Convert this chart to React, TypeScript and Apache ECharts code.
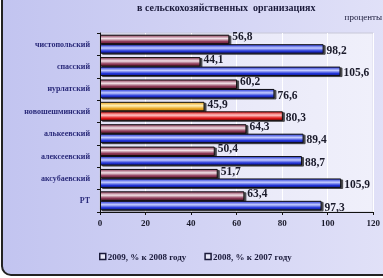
import React, { useEffect, useRef } from "react";
import * as echarts from "echarts";

const categories = ["чистопольский", "спасский", "нурлатский", "новошешминский", "алькеевский", "алексеевский", "аксубаевский", "РТ"];
const s2009 = [56.8, 44.1, 60.2, 45.9, 64.3, 50.4, 51.7, 63.4];
const s2008 = [98.2, 105.6, 76.6, 80.3, 89.4, 88.7, 105.9, 97.3];
const seriesNames = ["2009, % к 2008 году", "2008, % к 2007 году"];
const highlight = "новошешминский";

const FONT = "Liberation Serif";

const cyl = (dark: string, light: string, deep: string) =>
  new echarts.graphic.LinearGradient(0, 0, 0, 1, [
    { offset: 0, color: dark },
    { offset: 0.4, color: light },
    { offset: 0.75, color: dark },
    { offset: 1, color: deep },
  ]);

export default function App() {
  const ref = useRef<HTMLDivElement>(null);
  useEffect(() => {
    const chart = echarts.init(ref.current!, null, { renderer: "svg" });
    const fmt = (p: any) => String(p.value).replace(".", ",");
    const maroon = cyl("#8e3a58", "#f2e2e8", "#6a2038");
    const blue = cyl("#2436d8", "#c4ccff", "#121c9a");
    const yellow = cyl("#e8a420", "#fff0b8", "#c07a10");
    const red = cyl("#e01818", "#ffc4c4", "#a80c0c");
    const mk = (vals: number[], normal: any, special: any) =>
      vals.map((v, i) =>
        categories[i] === highlight ? { value: v, itemStyle: { color: special } } : { value: v, itemStyle: { color: normal } }
      );
    const labelCommon = {
      show: true,
      position: "right",
      distance: 3,
      formatter: fmt,
      fontFamily: FONT,
      fontWeight: "bold",
      fontSize: 11.5,
      color: "#1a1a2a",
    };
    const barStyle = { borderColor: "#111", borderWidth: 1, shadowColor: "rgba(0,0,0,0.7)", shadowOffsetX: 2, shadowOffsetY: 1 };
    chart.setOption({
      animation: false,
      graphic: [
        {
          type: "rect",
          z: -10,
          shape: { x: 2, y: -12, width: 400, height: 287, r: 9 },
          style: {
            fill: new echarts.graphic.LinearGradient(0, 0, 1, 0, [
              { offset: 0, color: "#c2c4f0" },
              { offset: 1, color: "#e2e2f8" },
            ]),
            stroke: "#222",
            lineWidth: 2,
          },
        },
        {
          type: "text",
          left: 137,
          top: 2,
          style: { text: "в сельскохозяйственных  организациях", font: `bold 10px "${FONT}"`, fill: "#1a1a3a" },
        },
        {
          type: "text",
          right: 1,
          top: 12,
          style: { text: "проценты", font: `9px "${FONT}"`, fill: "#1a1a3a" },
        },
      ],
      grid: {
        left: 100,
        right: 3,
        top: 33,
        bottom: 66,
        show: true,
        backgroundColor: new echarts.graphic.LinearGradient(0, 0, 1, 0, [
          { offset: 0, color: "#e2e2f6" },
          { offset: 1, color: "#f0f0fb" },
        ]),
        borderColor: "#c8c8d8",
        borderWidth: 1,
      },
      legend: {
        bottom: 12,
        left: 94,
        itemWidth: 6,
        itemHeight: 6,
        itemGap: 18,
        textStyle: { fontFamily: FONT, fontWeight: "bold", fontSize: 9, color: "#1a1a3a", padding: [0, 0, 0, -3] },
        data: seriesNames.map((n) => ({ name: n, icon: "rect", itemStyle: { color: "#e8e8f8", borderColor: "#1a1a3a", borderWidth: 1.5 } })),
      },
      xAxis: {
        type: "value",
        min: 0,
        max: 120,
        interval: 20,
        axisLine: { show: true, lineStyle: { color: "#111", width: 1 } },
        axisTick: { show: true, inside: false, length: 3, lineStyle: { color: "#111" } },
        splitLine: { show: true, lineStyle: { color: "#ffffff", width: 1 } },
        axisLabel: { fontFamily: FONT, fontWeight: "bold", fontSize: 9, color: "#1a1a2a", margin: 6 },
      },
      yAxis: {
        type: "category",
        inverse: true,
        data: categories,
        axisLine: { show: true, lineStyle: { color: "#111", width: 1 } },
        axisTick: { show: true, length: 3, lineStyle: { color: "#111" } },
        axisLabel: { fontFamily: FONT, fontWeight: "bold", fontSize: 8, color: "#2a2a7a", margin: 10 },
      },
      series: [
        {
          name: seriesNames[0],
          type: "bar",
          barWidth: 9.5,
          barGap: "0%",
          itemStyle: { color: maroon, ...barStyle },
          label: { ...labelCommon, offset: [0, -3] },
          data: mk(s2009, maroon, yellow),
        },
        {
          name: seriesNames[1],
          type: "bar",
          barWidth: 9.5,
          itemStyle: { color: blue, ...barStyle },
          label: { ...labelCommon, offset: [0, 1] },
          data: mk(s2008, blue, red),
        },
      ],
    });
    return () => chart.dispose();
  }, []);
  return <div ref={ref} style={{ position: "fixed", left: 0, top: 0, width: 383, height: 278 }} />;
}
